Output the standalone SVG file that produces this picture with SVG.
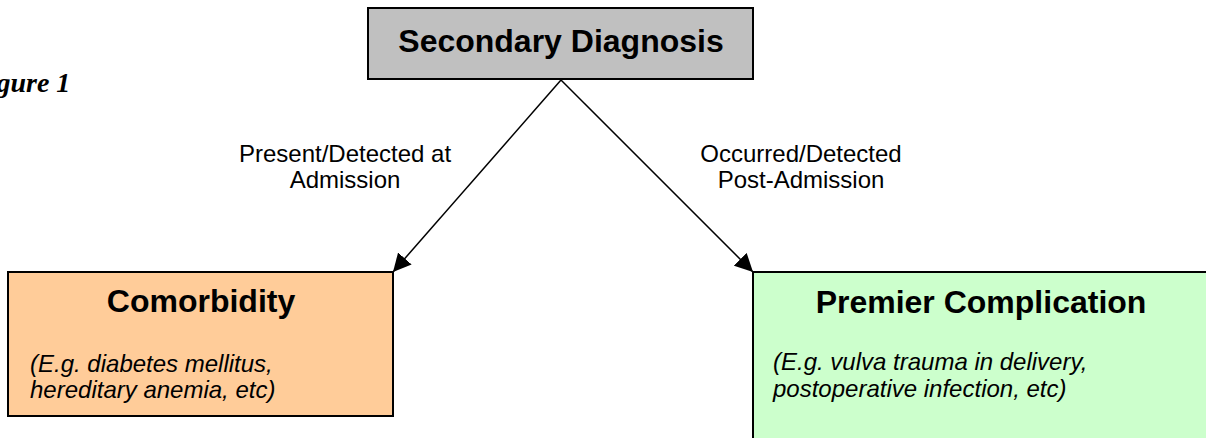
<svg xmlns="http://www.w3.org/2000/svg" width="1206" height="438" viewBox="0 0 1206 438">
<style>
.box{stroke:#000;stroke-width:2}
.title{font-family:"Liberation Sans",Arial,sans-serif;font-weight:bold;font-size:32px;fill:#000}
.lbl{font-family:"Liberation Sans",Arial,sans-serif;font-size:24px;fill:#000}
.ex{font-family:"Liberation Sans",Arial,sans-serif;font-style:italic;font-size:24px;fill:#000}
.conn{stroke:#000;stroke-width:1.5;fill:none}
</style>
<defs>
<marker id="ah" viewBox="0 0 10 10" refX="10" refY="5" markerWidth="18" markerHeight="18" markerUnits="userSpaceOnUse" orient="auto">
<path d="M0,0 L10,5 L0,10 Z" fill="#000"/>
</marker>
</defs>
<rect width="1206" height="438" fill="#fff"/>
<text x="-30" y="92" font-family="'Liberation Serif','Times New Roman',serif" font-weight="bold" font-style="italic" font-size="28">Figure 1</text>
<g id="connectors">
<line class="conn" x1="561" y1="80" x2="393" y2="272" marker-end="url(#ah)"/>
<line class="conn" x1="561" y1="80" x2="753" y2="272" marker-end="url(#ah)"/>
<text class="lbl" x="345" y="162" text-anchor="middle">Present/Detected at</text>
<text class="lbl" x="345" y="188" text-anchor="middle">Admission</text>
<text class="lbl" x="801" y="162" text-anchor="middle">Occurred/Detected</text>
<text class="lbl" x="801" y="188" text-anchor="middle">Post-Admission</text>
</g>
<g id="secondary">
<rect class="box" x="368" y="8" width="385" height="71" fill="#c0c0c0"/>
<text class="title" x="561" y="52" text-anchor="middle">Secondary Diagnosis</text>
</g>
<g id="comorbidity">
<rect class="box" x="8" y="272" width="385" height="144" fill="#ffcc99"/>
<text class="title" x="201" y="312" text-anchor="middle">Comorbidity</text>
<text class="ex" x="30" y="372">(E.g. diabetes mellitus,</text>
<text class="ex" x="30" y="398">hereditary anemia, etc)</text>
</g>
<g id="complication">
<rect class="box" x="753" y="272" width="460" height="180" fill="#ccffcc"/>
<text class="title" x="981" y="313" text-anchor="middle">Premier Complication</text>
<text class="ex" x="773" y="370">(E.g. vulva trauma in delivery,</text>
<text class="ex" x="773" y="397">postoperative infection, etc)</text>
</g>
</svg>
